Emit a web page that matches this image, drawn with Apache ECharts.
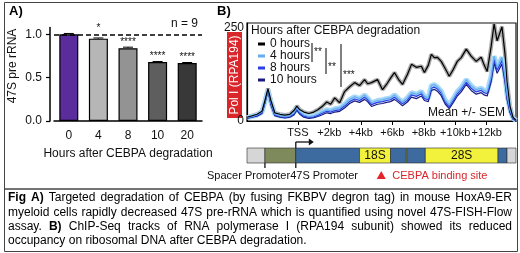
<!DOCTYPE html>
<html>
<head>
<meta charset="utf-8">
<script src="https://cdn.jsdelivr.net/npm/echarts@6/dist/echarts.min.js"></script>
<style>
  html, body { margin: 0; padding: 0; background: #fff; }
  #chart { width: 520px; height: 253px; }
</style>
</head>
<body>
<div id="chart"></div>
<script>
// --- A) 47S pre-rRNA after CEBPA degradation --- //
const hours = ['0', '4', '8', '10', '20'];
const rrna = [1.0, 0.95, 0.84, 0.68, 0.67];
const rrnaSem = [0.01, 0.008, 0.012, 0.006, 0.005];
const rrnaStars = ['', '*', '****', '****', '****'];
const yTicksA = [0, 0.5, 1.0];

// --- B) Pol I (RPA194) ChIP-seq over the rDNA repeat --- //
const kb = [-3.23, -2.91, -2.59, -2.28, -2.09, -1.90, -1.71, -1.46, -1.14, -0.82,
  -0.51, -0.25, -0.06, 0.13, 0.38, 0.70, 1.01, 1.27, 1.52, 1.84,
  2.09, 2.34, 2.66, 2.97, 3.29, 3.61, 3.92, 4.24, 4.43, 4.68,
  5.06, 5.38, 5.63, 5.89, 6.14, 6.39, 6.65, 6.96, 7.22, 7.53,
  7.85, 8.04, 8.29, 8.48, 8.67, 8.86, 9.11, 9.37, 9.62, 9.87,
  10.13, 10.38, 10.70, 11.01, 11.33, 11.65, 11.84, 12.03, 12.28, 12.47,
  12.66, 12.97, 13.16, 13.29, 13.48, 13.67, 13.86];
const pol0h = [10, 14, 18, 26, 55, 87, 55, 22, 18, 16,
  18, 28, 40, 30, 24, 20, 24, 30, 38, 51,
  45, 62, 49, 79, 92, 103, 95, 111, 100, 103,
  111, 84, 98, 115, 130, 112, 98, 125, 152, 144,
  147, 130, 150, 179, 170, 171, 160, 140, 120, 138,
  160, 170, 193, 174, 160, 171, 150, 133, 200, 261,
  215, 253, 180, 106, 40, 10, 2];
const pol4h = [9, 12, 16, 24, 52, 84, 50, 18, 14, 12,
  14, 22, 35, 24, 16, 12, 14, 18, 24, 30,
  28, 33, 35, 45, 58, 65, 60, 70, 62, 49,
  55, 57, 60, 62, 70, 60, 51, 62, 76, 72,
  79, 66, 62, 95, 98, 92, 80, 55, 43, 60,
  79, 90, 111, 95, 84, 88, 82, 79, 120, 174,
  144, 171, 120, 70, 30, 8, 1];
const pol8h = [8, 11, 15, 22, 50, 82, 46, 16, 12, 10,
  12, 19, 32, 21, 13, 10, 11, 15, 20, 26,
  24, 28, 30, 40, 52, 59, 55, 64, 57, 44,
  50, 52, 55, 57, 64, 55, 46, 56, 70, 66,
  73, 60, 57, 88, 91, 86, 74, 50, 38, 54,
  73, 84, 104, 88, 78, 82, 76, 73, 112, 165,
  136, 162, 112, 64, 26, 6, 1];
const pol10h = [7, 10, 13, 20, 48, 80, 43, 14, 10, 8,
  10, 16, 29, 18, 10, 7, 9, 12, 16, 22,
  20, 24, 26, 35, 47, 54, 50, 58, 52, 39,
  45, 47, 50, 52, 58, 50, 41, 51, 64, 60,
  67, 55, 52, 82, 85, 80, 68, 45, 33, 49,
  67, 78, 98, 82, 72, 76, 70, 67, 105, 156,
  128, 153, 104, 58, 22, 5, 1];
const kbTicks = [0, 2, 4, 6, 8, 10, 12];
const kbLabels = ['TSS', '+2kb', '+4kb', '+6kb', '+8kb', '+10kb', '+12kb'];
const yTicksB = [0, 250];

// rDNA map under the track
const rdnaStart = [-3.23, -2.09, -0.13, 3.92, 5.89, 6.84, 6.92, 8.10, 12.72, 13.29];
const rdnaEnd = [-2.09, -0.13, 3.92, 5.89, 6.84, 6.92, 8.10, 12.72, 13.29, 13.86];
const rdnaPart = ['IGS', 'spacer', 'ETS', '18S', 'ITS', '5.8S', 'ITS', '28S', 'ETS', 'IGS'];
const rdnaLabel = ['', '', '', '18S', '', '', '', '28S', '', ''];
const promoterKb = [-2.09, -0.13];
const bindingKb = [5.3];

const FONT = '"Liberation Sans", Arial, sans-serif';
const barColors = ['#5b2c9c', '#b6b6b6', '#939393', '#5e5e5e', '#383838'];
const partColors = { IGS: '#d6d6d6', spacer: '#7e8a5c', ETS: '#3d6a9f', ITS: '#3d6a9f', '18S': '#f2f23c', '5.8S': '#f2f23c', '28S': '#f2f23c' };

const chart = echarts.init(document.getElementById('chart'));

function lineSeries(name, values, color, width, z) {
  return {
    name: name, type: 'line', xAxisIndex: 1, yAxisIndex: 1,
    data: kb.map((k, i) => [k, values[i]]),
    showSymbol: false, symbol: 'none', color: color, silent: true, z: z,
    lineStyle: { color: color, width: width }
  };
}

chart.setOption({
  animation: false,
  textStyle: { fontFamily: FONT },
  grid: [
    { left: 54, top: 27.4, width: 148, height: 93.6 },
    { left: 247, top: 23, width: 269, height: 98, show: true, borderColor: '#111', borderWidth: 1.2 },
    { left: 247, top: 148, width: 269, height: 15 }
  ],
  xAxis: [
    {
      type: 'category', gridIndex: 0, data: hours,
      name: 'Hours after CEBPA degradation', nameLocation: 'middle', nameGap: 27,
      nameTextStyle: { fontSize: 12, color: '#111' },
      axisLine: { lineStyle: { color: '#000', width: 1.5 } },
      axisTick: { alignWithLabel: true, length: 4, lineStyle: { color: '#000', width: 1.2 } },
      axisLabel: { fontSize: 12, color: '#111', margin: 9 }
    },
    {
      type: 'value', gridIndex: 1, min: -3.23, max: 13.86,
      splitLine: { show: false },
      axisLine: { onZero: false, lineStyle: { color: '#000', width: 1.2 } },
      axisTick: { customValues: kbTicks, length: 4, lineStyle: { color: '#000' } },
      axisLabel: { customValues: kbTicks, fontSize: 11, color: '#111', margin: 6,
        formatter: v => kbLabels[kbTicks.indexOf(v)] }
    },
    { type: 'value', gridIndex: 2, min: -3.23, max: 13.86, show: false }
  ],
  yAxis: [
    {
      type: 'value', gridIndex: 0, min: 0, max: 1.08, offset: 4,
      splitLine: { show: false },
      axisLine: { show: true, lineStyle: { color: '#000', width: 1.5 } },
      axisTick: { show: true, customValues: yTicksA, length: 4, lineStyle: { color: '#000', width: 1.2 } },
      axisLabel: { customValues: yTicksA, fontSize: 12, color: '#111', formatter: v => v.toFixed(1) }
    },
    {
      type: 'value', gridIndex: 1, min: 0, max: 263,
      splitLine: { show: false },
      axisLine: { show: true, onZero: false, lineStyle: { color: '#000', width: 1.2 } },
      axisTick: { show: false },
      axisLabel: { customValues: yTicksB, fontSize: 12, color: '#111', margin: 3 }
    },
    { type: 'value', gridIndex: 2, min: 0, max: 1, show: false }
  ],
  legend: {
    data: ['0 hours', '4 hours', '8 hours', '10 hours'],
    orient: 'vertical', left: 258, top: 38, padding: 0,
    itemWidth: 7, itemHeight: 3, itemGap: 0, icon: 'rect', selectedMode: false,
    textStyle: { fontSize: 12, lineHeight: 12, color: '#111', fontFamily: FONT }
  },
  series: [
    {
      type: 'bar', xAxisIndex: 0, yAxisIndex: 0, barWidth: 19,
      data: rrna.map((v, i) => ({
        value: v,
        itemStyle: { color: barColors[i] },
        label: i === 1 ? { distance: 5 } : {}
      })),
      itemStyle: { borderColor: '#000', borderWidth: 1.2 },
      label: { show: true, position: 'top', distance: 1, fontSize: 10, color: '#111',
        formatter: p => rrnaStars[p.dataIndex] },
      markLine: {
        silent: true, symbol: ['none', 'none'], label: { show: false },
        lineStyle: { type: [5, 3], color: '#000', width: 1.5 },
        data: [{ yAxis: 1 }]
      }
    },
    {
      type: 'custom', xAxisIndex: 0, yAxisIndex: 0, silent: true, z: 3,
      data: hours.map((h, i) => [i, rrna[i], rrnaSem[i]]),
      renderItem: function (params, api) {
        const base = api.coord([api.value(0), api.value(1)]);
        const top = api.coord([api.value(0), api.value(1) + api.value(2)]);
        return {
          type: 'group', children: [
            { type: 'line', shape: { x1: base[0], y1: base[1], x2: top[0], y2: top[1] }, style: { stroke: '#000', lineWidth: 1 } },
            { type: 'line', shape: { x1: top[0] - 5, y1: top[1], x2: top[0] + 5, y2: top[1] }, style: { stroke: '#000', lineWidth: 1 } }
          ]
        };
      }
    },
    // SEM shading drawn as soft underlays
    lineSeries('0 hours SEM', pol0h, '#a9a9a9', 4, 1),
    lineSeries('4 hours SEM', pol4h, '#a8d8f8', 5, 1),
    lineSeries('10 hours', pol10h, '#1b1b7e', 1.2, 2),
    lineSeries('8 hours', pol8h, '#2b3de4', 1.2, 3),
    lineSeries('4 hours', pol4h, '#66acf0', 1.2, 4),
    lineSeries('0 hours', pol0h, '#000000', 1.2, 5),
    {
      type: 'custom', xAxisIndex: 2, yAxisIndex: 2, silent: true,
      data: rdnaStart.map((s, i) => [s, rdnaEnd[i]]),
      renderItem: function (params, api) {
        const i = params.dataIndex;
        const p0 = api.coord([api.value(0), 1]);
        const p1 = api.coord([api.value(1), 0]);
        const kids = [{
          type: 'rect',
          shape: { x: p0[0], y: p0[1], width: p1[0] - p0[0], height: p1[1] - p0[1] },
          style: { fill: partColors[rdnaPart[i]], stroke: '#2a2a2a', lineWidth: 0.6 }
        }];
        if (rdnaLabel[i]) {
          kids.push({
            type: 'text', x: (p0[0] + p1[0]) / 2, y: (p0[1] + p1[1]) / 2 + 0.5,
            style: { text: rdnaLabel[i], fontSize: 12, fontFamily: FONT, fill: '#111', align: 'center', verticalAlign: 'middle' }
          });
        }
        return { type: 'group', children: kids };
      }
    }
  ]
});

// --- annotations --- //
const px = v => chart.convertToPixel({ xAxisIndex: 2 }, v);

function txt(x, y, s, opt, rot) {
  return { type: 'text', x: x, y: y, rotation: rot || 0, silent: true, style: Object.assign({
    text: s, fontSize: 12, fontFamily: FONT, fill: '#111', verticalAlign: 'middle' }, opt || {}) };
}
function seg(x1, y1, x2, y2, color, w) {
  return { type: 'line', silent: true, shape: { x1: x1, y1: y1, x2: x2, y2: y2 }, style: { stroke: color || '#000', lineWidth: w || 1 } };
}

// caption, justified like the figure legend
const captionLines = [
  [['Fig A)', true], ['Targeted degradation of CEBPA (by fusing FKBPV degron tag) in mouse HoxA9-ER', false]],
  [['myeloid cells rapidly decreased 47S pre-rRNA which is quantified using novel 47S-FISH-Flow', false]],
  [['assay.', false], ['B)', true], ['ChIP-Seq tracks of RNA polymerase I (RPA194 subunit) showed its reduced', false]],
  [['occupancy on ribosomal DNA after CEBPA degradation.', false]]
];
const ctx = document.createElement('canvas').getContext('2d');
const fontOf = bold => (bold ? 'bold ' : '') + '12px "Liberation Sans"';
function captionGraphics() {
  const out = [];
  const left = 8, right = 512, top = 198, step = 14.2;
  captionLines.forEach((line, li) => {
    const words = [];
    line.forEach(([t, bold]) => t.split(' ').forEach(w => words.push({ w: w, bold: bold })));
    let total = 0;
    words.forEach(o => { ctx.font = fontOf(o.bold); o.width = ctx.measureText(o.w).width; total += o.width; });
    ctx.font = fontOf(false);
    const last = li === captionLines.length - 1;
    const gap = last ? ctx.measureText(' ').width : (right - left - total) / (words.length - 1);
    let x = left;
    words.forEach(o => {
      out.push(txt(x, top + li * step, o.w, { fontWeight: o.bold ? 'bold' : 'normal', fill: '#000' }));
      x += o.width + gap;
    });
  });
  return out;
}

const xSpacer = px(promoterKb[0]);
const x47S = px(promoterKb[1]);
const xBind = px(bindingKb[0]);

chart.setOption({
  graphic: [
    { type: 'rect', silent: true, shape: { x: 4.5, y: 2.5, width: 513, height: 186.5 }, style: { fill: 'none', stroke: '#444', lineWidth: 1 } },
    { type: 'rect', silent: true, shape: { x: 4.5, y: 189, width: 513, height: 62.5 }, style: { fill: 'none', stroke: '#444', lineWidth: 1 } },
    txt(9, 11, 'A)', { fontWeight: 'bold', fontSize: 13, fill: '#000' }),
    txt(217, 11, 'B)', { fontWeight: 'bold', fontSize: 13, fill: '#000' }),
    txt(171, 24, 'n = 9'),
    txt(13, 66, '47S pre rRNA', { align: 'center' }, Math.PI / 2),
    // Pol I label box
    { type: 'rect', silent: true, shape: { x: 227, y: 32, width: 15, height: 86 }, style: { fill: '#d9262b' } },
    txt(234.5, 75, 'Pol I (RPA194)', { align: 'center', fill: '#fff' }, Math.PI / 2),
    txt(251, 31, 'Hours after CEBPA degradation'),
    // significance brackets
    seg(312, 43, 312, 62), txt(314, 52, '**', { fontSize: 10 }),
    seg(326, 48, 326, 74), txt(328, 67, '**', { fontSize: 10 }),
    seg(341, 44, 341, 87), txt(343, 75, '***', { fontSize: 10 }),
    txt(428, 113, 'Mean +/- SEM'),
    // promoters and transcription start arrow
    seg(xSpacer, 148, xSpacer, 168, '#111', 1.3),
    seg(x47S, 142, x47S, 168, '#111', 1.3),
    seg(x47S, 142, x47S + 14, 142, '#111', 1.3),
    { type: 'polygon', silent: true, shape: { points: [[x47S + 13, 138.5], [x47S + 18, 142], [x47S + 13, 145.5]] }, style: { fill: '#111' } },
    txt(207, 176, 'Spacer Promoter47S Promoter', { fontSize: 11 }),
    { type: 'polygon', silent: true, shape: { points: [[xBind - 4.5, 179], [xBind + 4.5, 179], [xBind, 171]] }, style: { fill: '#e3242b' } },
    txt(xBind + 11, 176, 'CEBPA binding site', { fontSize: 11, fill: '#d7262b' })
  ].concat(captionGraphics())
});
</script>
</body>
</html>
